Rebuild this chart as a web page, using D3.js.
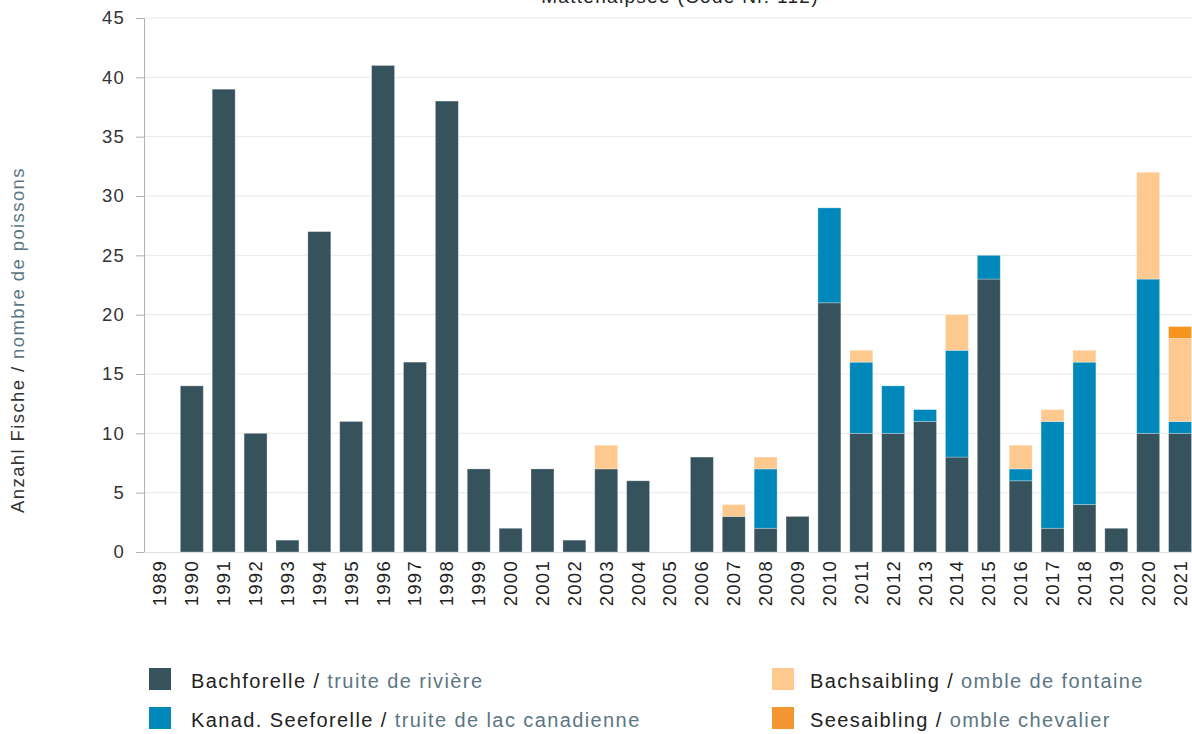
<!DOCTYPE html>
<html><head><meta charset="utf-8">
<script src="https://cdn.jsdelivr.net/npm/d3@7"></script>
<style>body{margin:0;background:#fff;}svg{display:block;font-family:"Liberation Sans",Arial,sans-serif;}</style>
</head><body>
<svg id="c" width="1192" height="734"></svg>
<script>
const years = ["1989","1990","1991","1992","1993","1994","1995","1996","1997","1998","1999","2000","2001","2002","2003","2004","2005","2006","2007","2008","2009","2010","2011","2012","2013","2014","2015","2016","2017","2018","2019","2020","2021"];
const bachforelle  = [0,14,39,10,1,27,11,41,16,38,7,2,7,1,7,6,0,8,3,2,3,21,10,10,11,8,23,6,2,4,2,10,10];
const seeforelle   = [0,0,0,0,0,0,0,0,0,0,0,0,0,0,0,0,0,0,0,5,0,8,6,4,1,9,2,1,9,12,0,13,1];
const bachsaibling = [0,0,0,0,0,0,0,0,0,0,0,0,0,0,2,0,0,0,1,1,0,0,1,0,0,3,0,2,1,1,0,9,7];
const seesaibling  = [0,0,0,0,0,0,0,0,0,0,0,0,0,0,0,0,0,0,0,0,0,0,0,0,0,0,0,0,0,0,0,0,1];
const yTicks = [0,5,10,15,20,25,30,35,40,45];
const seriesNames = [
  {de:"Bachforelle", fr:"truite de rivière"},
  {de:"Kanad. Seeforelle", fr:"truite de lac canadienne"},
  {de:"Bachsaibling", fr:"omble de fontaine"},
  {de:"Seesaibling", fr:"omble chevalier"}
];
const chartTitle = "Mattenalpsee  (Code Nr. 112)";
const colors = ["#36535d","#0088bb","#fdc98e","#f7941d"];

(function(){
const svg = d3.select("#c");
const mLeft = 144, mRight = 1196, mTop = 18, mBottom = 552;
const x = d3.scaleBand().domain(years).range([mLeft, mRight]).paddingInner(0.28).paddingOuter(0.14);
const y = d3.scaleLinear().domain([0,45]).range([mBottom, mTop]);

const table = years.map((yr,i)=>({year:yr, s0:bachforelle[i], s1:seeforelle[i], s2:bachsaibling[i], s3:seesaibling[i]}));
const stack = d3.stack().keys(["s0","s1","s2","s3"])(table);

svg.append("text").attr("x",680).attr("y",3).attr("text-anchor","middle")
  .attr("font-size",19).attr("letter-spacing",1.3).attr("fill","#222").text(chartTitle);

svg.append("g").selectAll("line").data(yTicks.filter(d=>d>0)).join("line")
  .attr("x1",mLeft).attr("x2",1192).attr("y1",d=>y(d)).attr("y2",d=>y(d))
  .attr("stroke","#e8e8e8").attr("stroke-width",1);

svg.append("g").selectAll("g").data(stack).join("g")
  .attr("fill",(d,i)=>colors[i])
  .selectAll("rect").data(d=>d.filter(p=>p[1]-p[0]>0)).join("rect")
  .attr("x",d=>x(d.data.year)).attr("width",x.bandwidth())
  .attr("y",d=>y(d[1])).attr("height",d=>y(d[0])-y(d[1]))
  .attr("stroke","#ffffff").attr("stroke-opacity",0.35).attr("stroke-width",0.8);

const ya = svg.append("g").attr("transform",`translate(${mLeft},0)`)
  .call(d3.axisLeft(y).tickValues(yTicks).tickSize(8).tickPadding(11));
ya.select(".domain").attr("stroke","#b0b0b0");
ya.selectAll(".tick line").attr("stroke","#b0b0b0");
ya.selectAll("text").attr("font-size",18.5).attr("letter-spacing",1.2).attr("fill","#333")
  .attr("font-family","Liberation Sans, Arial, sans-serif");

svg.append("line").attr("x1",mLeft).attr("x2",1192).attr("y1",mBottom+0.5).attr("y2",mBottom+0.5).attr("stroke","#e0e0e0");

const xa = svg.append("g").attr("transform",`translate(0,${mBottom})`)
  .call(d3.axisBottom(x).tickSize(0));
xa.select(".domain").remove();
xa.selectAll("text").attr("font-size",18.5).attr("letter-spacing",1.3).attr("fill","#222")
  .attr("font-family","Liberation Sans, Arial, sans-serif")
  .attr("text-anchor","end").attr("dy","0.35em")
  .attr("transform","translate(0,8) rotate(-90)")
  .attr("x",0).attr("y",0);

const yt = svg.append("text").attr("transform","translate(24,340) rotate(-90)")
  .attr("text-anchor","middle").attr("font-size",18.5).attr("letter-spacing",1.4);
yt.append("tspan").attr("fill","#333").text("Anzahl Fische / ");
yt.append("tspan").attr("fill","#5b7684").text("nombre de poissons");

const legPos = [[149,668],[149,707],[772,668],[772,707]];
const lg = svg.append("g").selectAll("g").data(seriesNames).join("g")
  .attr("transform",(d,i)=>`translate(${legPos[i][0]},${legPos[i][1]})`);
lg.append("rect").attr("width",22).attr("height",22).attr("fill",(d,i)=>i===3?"#f39530":colors[i]);
const lt = lg.append("text").attr("x",(d,i)=>i<2?42:38).attr("y",20)
  .attr("font-size",20).attr("letter-spacing",1.4);
lt.append("tspan").attr("fill","#222").text(d=>d.de+" / ");
lt.append("tspan").attr("fill","#5b7684").text(d=>d.fr);
})();
</script>
</body></html>
